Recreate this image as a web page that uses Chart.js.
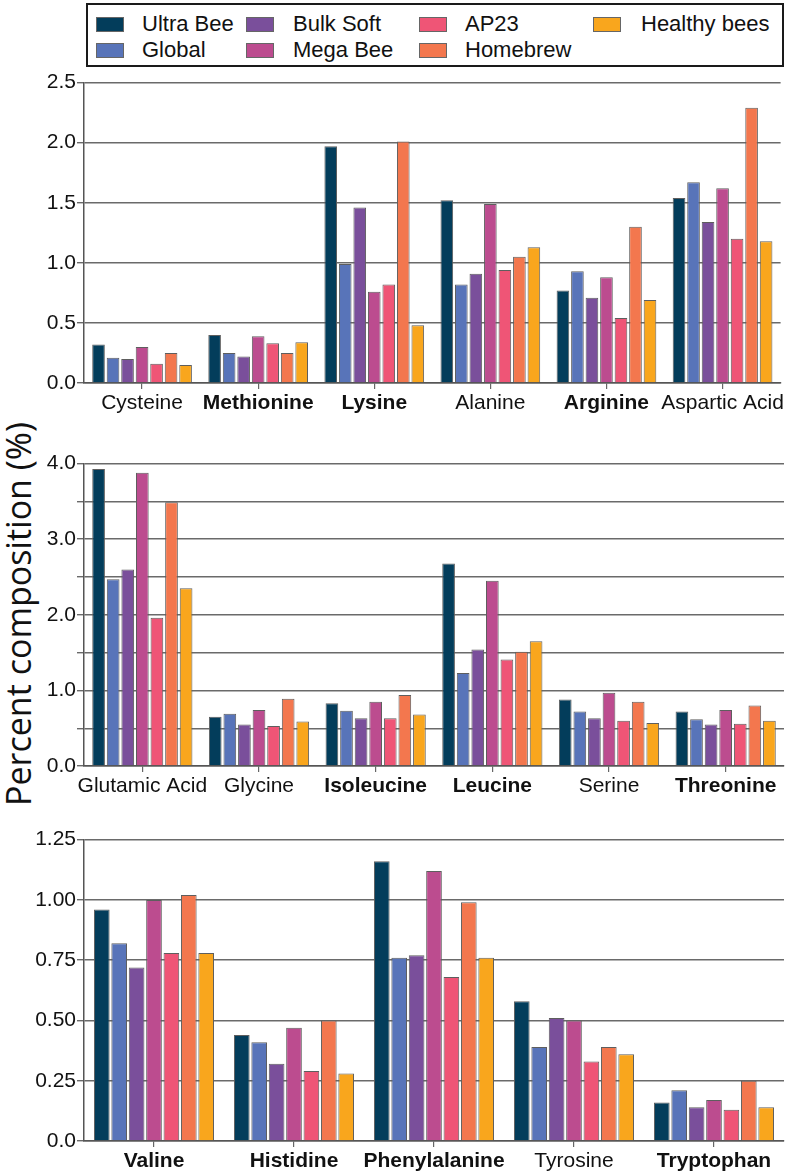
<!DOCTYPE html>
<html>
<head>
<meta charset="utf-8">
<script src="https://cdn.jsdelivr.net/npm/chart.js@4.4.1/dist/chart.umd.min.js"></script>
<style>
  html, body { margin: 0; padding: 0; background: #fff; }
  body { width: 786px; height: 1174px; position: relative; overflow: hidden; font-family: "Liberation Sans", Arial, sans-serif; }
  .wrap { position: absolute; left: 0; width: 786px; }
  #legend { position: absolute; left: 86px; top: 3px; width: 694px; height: 60px; border: 2px solid #1a1a1a; }
  .li { position: absolute; font-size: 22px; color: #111; white-space: nowrap; line-height: 22px; }
  .sw { position: absolute; width: 28px; height: 15px; box-sizing: border-box; border: 1px solid #666; }
  #ytitle { position: absolute; left: 18px; top: 614px; transform: translate(-50%, -50%) rotate(-90deg); font-family: "Open Sans", sans-serif; font-size: 34px; color: #111; white-space: nowrap; line-height: 1; }
</style>
</head>
<body>
<div id="legend"></div>
<div id="ytitle">Percent composition (%)</div>
<div class="wrap" style="top:69px;height:354px"><canvas id="c1"></canvas></div>
<div class="wrap" style="top:450px;height:356px"><canvas id="c2"></canvas></div>
<div class="wrap" style="top:826px;height:348px"><canvas id="c3"></canvas></div>
<script>
// ---- Data ----
const seriesNames = ["Ultra Bee", "Global", "Bulk Soft", "Mega Bee", "AP23", "Homebrew", "Healthy bees"];

const categories1 = ["Cysteine", "Methionine", "Lysine", "Alanine", "Arginine", "Aspartic Acid"];
const categories2 = ["Glutamic Acid", "Glycine", "Isoleucine", "Leucine", "Serine", "Threonine"];
const categories3 = ["Valine", "Histidine", "Phenylalanine", "Tyrosine", "Tryptophan"];
const boldCategories = ["Methionine", "Lysine", "Arginine", "Isoleucine", "Leucine", "Threonine", "Valine", "Histidine", "Phenylalanine", "Tryptophan"];

// values in order: categories1, categories2, categories3
const ultraBee    = [0.32, 0.40, 1.97, 1.52, 0.77, 1.54,  3.93, 0.65, 0.83, 2.68, 0.88, 0.72,  0.96, 0.44, 1.16, 0.58, 0.16];
const globalMix   = [0.21, 0.25, 0.99, 0.82, 0.93, 1.67,  2.47, 0.69, 0.73, 1.23, 0.72, 0.62,  0.82, 0.41, 0.76, 0.39, 0.21];
const bulkSoft    = [0.20, 0.22, 1.46, 0.91, 0.71, 1.34,  2.60, 0.55, 0.63, 1.54, 0.63, 0.55,  0.72, 0.32, 0.77, 0.51, 0.14];
const megaBee     = [0.30, 0.39, 0.76, 1.49, 0.88, 1.62,  3.88, 0.74, 0.85, 2.45, 0.97, 0.74,  1.00, 0.47, 1.12, 0.50, 0.17];
const ap23        = [0.16, 0.33, 0.82, 0.94, 0.54, 1.20,  1.96, 0.53, 0.63, 1.41, 0.60, 0.56,  0.78, 0.29, 0.68, 0.33, 0.13];
const homebrew    = [0.25, 0.25, 2.01, 1.05, 1.30, 2.29,  3.49, 0.89, 0.94, 1.51, 0.85, 0.80,  1.02, 0.50, 0.99, 0.39, 0.25];
const healthyBees = [0.15, 0.34, 0.48, 1.13, 0.69, 1.18,  2.35, 0.59, 0.68, 1.65, 0.57, 0.60,  0.78, 0.28, 0.76, 0.36, 0.14];

const yMax = [2.5, 4.0, 1.25];
const yStep = [0.5, 0.5, 0.25];

// ---- Styles ----
const seriesData = [ultraBee, globalMix, bulkSoft, megaBee, ap23, homebrew, healthyBees];
const colors = ["#033d5b", "#5874b9", "#7a4f9b", "#bc4c8f", "#ef5576", "#f3774e", "#f9a61d"];

// legend (column-major, 2 rows)
const legend = document.getElementById('legend');
const colSw = [8, 158, 331, 505];
const colTx = [54, 205, 377, 553];
const rowY = [21, 47];
seriesNames.forEach((name, i) => {
  const c = Math.floor(i / 2), r = i % 2;
  const sw = document.createElement('div');
  sw.className = 'sw';
  sw.style.left = colSw[c] + 'px';
  sw.style.top = (rowY[r] - 7.5 - 2) + 'px';
  sw.style.background = colors[i];
  legend.appendChild(sw);
  const t = document.createElement('div');
  t.className = 'li';
  t.textContent = name;
  t.style.left = colTx[c] + 'px';
  t.style.top = (rowY[r] - 11 - 2) + 'px';
  legend.appendChild(t);
});

const FONT = "'Liberation Sans', Arial, sans-serif";

function makeChart(id, labels, start, panel, axisH, bp, cp) {
  const datasets = seriesNames.map((name, i) => ({
    label: name,
    data: seriesData[i].slice(start, start + labels.length),
    backgroundColor: colors[i],
    borderColor: '#5e5e5e',
    borderWidth: 1,
    barPercentage: bp,
    categoryPercentage: cp
  }));
  return new Chart(document.getElementById(id), {
    type: 'bar',
    data: { labels, datasets },
    options: {
      responsive: true,
      maintainAspectRatio: false,
      animation: false,
      layout: { autoPadding: false, padding: { top: 8, right: 2, left: 0, bottom: 0 } },
      plugins: { legend: { display: false }, tooltip: { enabled: false } },
      scales: {
        x: {
          afterFit: (s) => { s.height = axisH; },
          grid: { display: true, drawOnChartArea: false, drawTicks: true, tickLength: 6, offset: false, color: '#666', lineWidth: 1.2 },
          border: { display: true, color: '#555', width: 1.5 },
          ticks: {
            padding: 2,
            color: '#111',
            maxRotation: 0,
            autoSkip: false,
            font: (ctx) => ({ family: FONT, size: 21, weight: (ctx.tick && boldCategories.includes(ctx.tick.label)) ? 'bold' : 'normal' })
          }
        },
        y: {
          min: 0,
          max: yMax[panel],
          afterFit: (s) => { s.width = 84; },
          grid: { color: '#6a6a6a', lineWidth: 1.4, tickLength: 7, drawTicks: true },
          border: { display: true, color: '#555', width: 1.5 },
          ticks: {
            stepSize: yStep[panel],
            padding: 1,
            color: '#111',
            font: { family: FONT, size: 21 },
            callback: (v) => {
              if (panel === 0) return v.toFixed(1);
              if (panel === 1) return Math.abs(v - Math.round(v)) < 1e-9 ? v.toFixed(1) : '';
              return v === 0 ? '0.0' : v.toFixed(2);
            }
          }
        }
      }
    }
  });
}

makeChart('c1', categories1, 0, 0, 40, 0.87, 0.875);
makeChart('c2', categories2, 6, 1, 40, 0.87, 0.875);
makeChart('c3', categories3, 12, 2, 33, 0.9, 0.87);
</script>
</body>
</html>
